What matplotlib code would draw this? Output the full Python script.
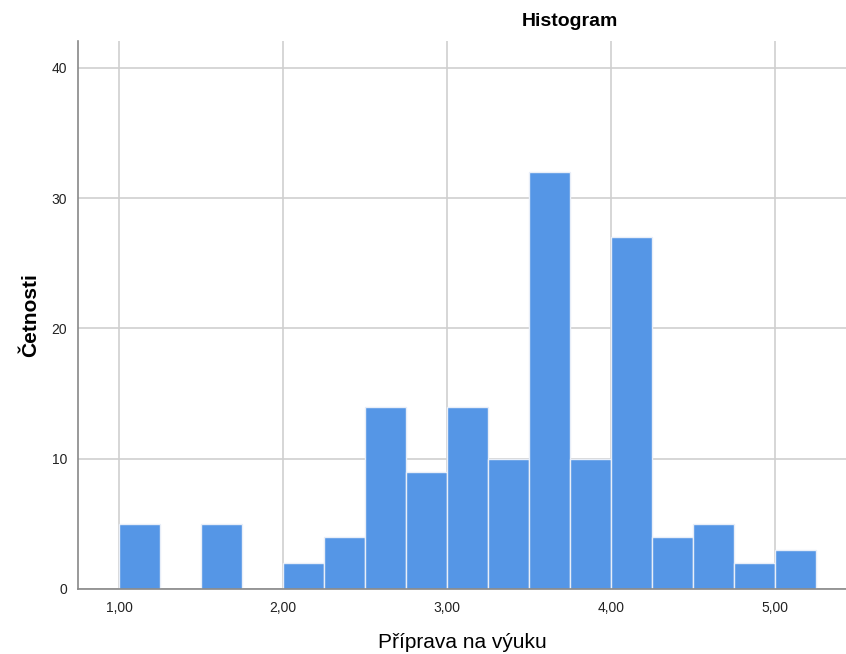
import matplotlib
matplotlib.use("Agg")
import matplotlib.pyplot as plt
import numpy as np

bin_starts = [1.00, 1.25, 1.50, 1.75, 2.00, 2.25, 2.50, 2.75, 3.00, 3.25,
              3.50, 3.75, 4.00, 4.25, 4.50, 4.75, 5.00]
counts = [5, 0, 5, 0, 2, 4, 14, 9, 14, 10, 32, 10, 27, 4, 5, 2, 3]
bin_width = 0.25
x_ticks = [1.0, 2.0, 3.0, 4.0, 5.0]
x_tick_labels = ["1,00", "2,00", "3,00", "4,00", "5,00"]
y_ticks = [0, 10, 20, 30, 40]

plt.rcParams['font.family'] = ['Liberation Sans', 'DejaVu Sans']

fig = plt.figure(figsize=(8.46, 6.54), dpi=100)
ax = fig.add_axes([78/846, 1 - 589/654, 1 - 78/846, (589 - 41)/654])

ax.set_axisbelow(True)
ax.grid(True, color="#cfcfcf", linewidth=1.2)
ax.bar(bin_starts, counts, width=bin_width, align="edge",
       color="#5596e6", edgecolor="#e8eef8", linewidth=1.0)

ax.set_xlim(0.75, 5.433)
ax.set_ylim(0, 42.07)
ax.set_xticks(x_ticks)
ax.set_xticklabels(x_tick_labels)
ax.set_yticks(y_ticks)
ax.tick_params(length=0, labelsize=10, colors="#222222", pad=8)
ax.tick_params(axis='x', pad=9)

for s in ["top", "right"]:
    ax.spines[s].set_visible(False)
for s in ["left", "bottom"]:
    ax.spines[s].set_color("#888888")
    ax.spines[s].set_linewidth(1.2)

ax.set_ylabel("Četnosti", fontsize=15, fontweight="bold", labelpad=8)
fig.text(462/846, 1 - 642/654, "Příprava na výuku", fontsize=15,
         ha="center", va="center")
fig.text(570/846, 1 - 22/654, "Histogram", fontsize=14, fontweight="bold",
         ha="center", va="center")

fig.savefig("out.png", dpi=100)
